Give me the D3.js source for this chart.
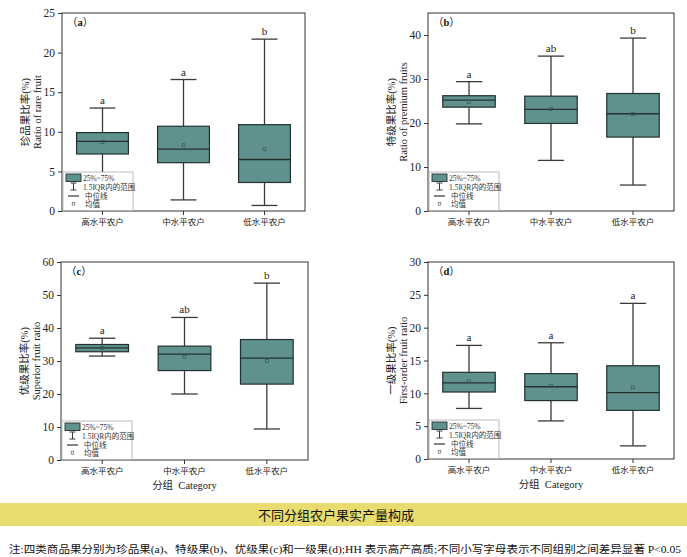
<!DOCTYPE html>
<html><head><meta charset="utf-8">
<script src="https://cdn.jsdelivr.net/npm/d3@7"></script>
<style>body{margin:0;background:#fff}svg{display:block}text{white-space:pre}</style>
</head><body><svg id="c" width="687" height="557"></svg>
<script>
// ---- data ----
const categories = ["高水平农户", "中水平农户", "低水平农户"];
const statKeys = ["low", "q1", "median", "q3", "high", "mean"];
// each row: [lower whisker, Q1, median, Q3, upper whisker, mean]
const rareFruit     = [[4.8, 7.2, 8.8, 9.9, 13.0, 8.7], [1.4, 6.1, 7.8, 10.7, 16.6, 8.3], [0.7, 3.6, 6.5, 10.9, 21.7, 7.8]];
const premiumFruit  = [[19.8, 23.6, 25.2, 26.2, 29.4, 24.8], [11.5, 19.9, 23.1, 26.1, 35.2, 23.2], [5.9, 16.8, 22.1, 26.7, 39.3, 22.0]];
const superiorFruit = [[31.5, 32.8, 34.0, 35.0, 36.9, 33.9], [20.0, 27.1, 32.1, 34.5, 43.2, 31.3], [9.4, 23.0, 30.9, 36.5, 53.6, 30.0]];
const firstFruit    = [[7.7, 10.2, 11.6, 13.2, 17.3, 11.8], [5.8, 8.9, 11.0, 13.0, 17.7, 11.1], [2.0, 7.4, 10.1, 14.2, 23.7, 10.9]];
const rareLetters = ["a", "a", "b"];
const premiumLetters = ["a", "ab", "b"];
const superiorLetters = ["a", "ab", "b"];
const firstLetters = ["a", "a", "a"];
const yMax = [25, 45, 60, 30];
const yTickValues = [[0, 5, 10, 15, 20, 25], [0, 10, 20, 30, 40], [0, 10, 20, 30, 40, 50, 60], [0, 5, 10, 15, 20, 25, 30]];
const panelTags = ["a", "b", "c", "d"];
const yTitlesCN = ["珍品果比率(%)", "特级果比率(%)", "优级果比率(%)", "一级果比率(%)"];
const yTitlesEN = ["Ratio of rare fruit", "Ratio of premium fruits", "Superior fruit ratio", "First-order fruit ratio"];
const legendLabels = ["25%~75%", "1.5IQR内的范围", "中位线", "均值"];
const xTitle = "分组  Category";
const bannerTitle = "不同分组农户果实产量构成";
const noteText = "注:四类商品果分别为珍品果(a)、特级果(b)、优级果(c)和一级果(d);HH 表示高产高质;不同小写字母表示不同组别之间差异显著 P<0.05";

const datasets = [rareFruit, premiumFruit, superiorFruit, firstFruit];
const letterSets = [rareLetters, premiumLetters, superiorLetters, firstLetters];

// ---- layout ----
const panels = [
  {x0: 62, x1: 305, y0: 13, y1: 211},
  {x0: 428, x1: 674, y0: 13, y1: 211},
  {x0: 61, x1: 308, y0: 262, y1: 460},
  {x0: 428, x1: 674, y0: 262, y1: 459}
];
const FILL = "#5f928e", BOXSTROKE = "#22302f", WHISK = "#3a3a3a", AXIS = "#333";
const SERIF = "'Liberation Serif','Times New Roman','Noto Sans CJK SC',serif";

const svg = d3.select("#c");

panels.forEach((p, i) => {
  const rows = datasets[i].map((r, j) => {
    const o = {cat: categories[j], letter: letterSets[i][j]};
    statKeys.forEach((k, m) => o[k] = r[m]);
    return o;
  });
  const x = d3.scaleBand().domain(categories).range([p.x0, p.x1]).paddingInner(0.36).paddingOuter(0.18);
  const y = d3.scaleLinear().domain([0, yMax[i]]).range([p.y1, p.y0]);
  const g = svg.append("g");

  // axes
  const ya = g.append("g").attr("transform", `translate(${p.x0},0)`)
    .call(d3.axisLeft(y).tickValues(yTickValues[i]).tickSize(4).tickPadding(3));
  const xa = g.append("g").attr("transform", `translate(0,${p.y1})`)
    .call(d3.axisBottom(x).tickSize(4).tickPadding(4));
  [ya, xa].forEach(a => {
    a.select(".domain").remove();
    a.selectAll("line").attr("stroke", AXIS);
  });
  ya.selectAll("text").attr("font-family", SERIF).attr("font-size", 11.5).attr("fill", "#222");
  xa.selectAll("text").attr("font-family", SERIF).attr("font-size", 8.5).attr("fill", "#222");

  // boxes
  const bw = x.bandwidth(), capW = bw * 0.5;
  const b = g.selectAll(".bx").data(rows).enter().append("g");
  b.append("line").attr("x1", d => x(d.cat) + bw / 2).attr("x2", d => x(d.cat) + bw / 2)
    .attr("y1", d => y(d.high)).attr("y2", d => y(d.q3)).attr("stroke", WHISK).attr("stroke-width", 1.3);
  b.append("line").attr("x1", d => x(d.cat) + bw / 2).attr("x2", d => x(d.cat) + bw / 2)
    .attr("y1", d => y(d.q1)).attr("y2", d => y(d.low)).attr("stroke", WHISK).attr("stroke-width", 1.3);
  ["high", "low"].forEach(k => {
    b.append("line").attr("x1", d => x(d.cat) + bw / 2 - capW / 2).attr("x2", d => x(d.cat) + bw / 2 + capW / 2)
      .attr("y1", d => y(d[k])).attr("y2", d => y(d[k])).attr("stroke", WHISK).attr("stroke-width", 1.3);
  });
  b.append("rect").attr("x", d => x(d.cat)).attr("width", bw)
    .attr("y", d => y(d.q3)).attr("height", d => y(d.q1) - y(d.q3))
    .attr("fill", FILL).attr("stroke", BOXSTROKE).attr("stroke-width", 1.2);
  b.append("line").attr("x1", d => x(d.cat)).attr("x2", d => x(d.cat) + bw)
    .attr("y1", d => y(d.median)).attr("y2", d => y(d.median)).attr("stroke", BOXSTROKE).attr("stroke-width", 1.3);
  b.append("rect").attr("x", d => x(d.cat) + bw / 2 - 1.5).attr("y", d => y(d.mean) - 1.5)
    .attr("width", 3).attr("height", 3).attr("fill", "none").attr("stroke", "#3c5553").attr("stroke-width", 0.7);
  b.append("text").attr("x", d => x(d.cat) + bw / 2).attr("y", d => y(d.high) - 4)
    .attr("text-anchor", "middle").attr("font-family", SERIF).attr("font-size", 11).attr("fill", "#222")
    .text(d => d.letter);

  // frame
  g.append("rect").attr("x", p.x0).attr("y", p.y0).attr("width", p.x1 - p.x0).attr("height", p.y1 - p.y0)
    .attr("fill", "none").attr("stroke", AXIS).attr("stroke-width", 1);

  // panel tag
  const tg = g.append("text").attr("x", p.x0 + 5).attr("y", p.y0 + 13)
    .attr("font-family", SERIF).attr("font-size", 10.5).attr("fill", "#111");
  tg.append("tspan").text("（");
  tg.append("tspan").attr("font-weight", "bold").text(panelTags[i]);
  tg.append("tspan").text("）");

  // y title
  const cy = (p.y0 + p.y1) / 2;
  g.append("text").attr("transform", `translate(${p.x0 - 37},${cy}) rotate(-90)`)
    .attr("text-anchor", "middle").attr("dy", "0.35em").attr("font-family", SERIF).attr("font-size", 10.5)
    .attr("fill", "#222").text(yTitlesCN[i]);
  g.append("text").attr("transform", `translate(${p.x0 - 25},${cy}) rotate(-90)`)
    .attr("text-anchor", "middle").attr("dy", "0.35em").attr("font-family", SERIF).attr("font-size", 10.5)
    .attr("fill", "#222").text(yTitlesEN[i]);

  // x title for bottom panels
  if (i >= 2) {
    g.append("text").attr("x", (p.x0 + p.x1) / 2).attr("y", p.y1 + 29)
      .attr("text-anchor", "middle").attr("font-family", SERIF).attr("font-size", 10.5).attr("fill", "#222")
      .text(xTitle);
  }

  // legend
  const lx = p.x0 + 1, ly = p.y1 - 39;
  const lg = g.append("g");
  lg.append("rect").attr("x", lx).attr("y", ly).attr("width", 70).attr("height", 38.5)
    .attr("fill", "#fff").attr("stroke", "#aaa").attr("stroke-width", 0.8);
  lg.append("rect").attr("x", lx + 3).attr("y", ly + 2).attr("width", 15).attr("height", 7.5)
    .attr("fill", FILL).attr("stroke", BOXSTROKE).attr("stroke-width", 0.9);
  const wx = lx + 10.5;
  lg.append("line").attr("x1", wx).attr("x2", wx).attr("y1", ly + 11).attr("y2", ly + 18).attr("stroke", WHISK);
  lg.append("line").attr("x1", wx - 3).attr("x2", wx + 3).attr("y1", ly + 11).attr("y2", ly + 11).attr("stroke", WHISK);
  lg.append("line").attr("x1", wx - 3).attr("x2", wx + 3).attr("y1", ly + 18).attr("y2", ly + 18).attr("stroke", WHISK);
  lg.append("line").attr("x1", lx + 5).attr("x2", lx + 16).attr("y1", ly + 24).attr("y2", ly + 24).attr("stroke", "#333").attr("stroke-width", 1.2);
  lg.append("rect").attr("x", wx - 1.3).attr("y", ly + 30.5).attr("width", 2.6).attr("height", 2.6)
    .attr("fill", "none").attr("stroke", "#555").attr("stroke-width", 0.6);
  const ty = [6, 15, 24, 32];
  legendLabels.forEach((t, k) => {
    lg.append("text").attr("x", lx + (k >= 2 ? 22 : 20)).attr("y", ly + ty[k]).attr("dy", "0.35em")
      .attr("font-family", SERIF).attr("font-size", 7.5).attr("fill", "#333").text(t);
  });
});

// banner
svg.append("rect").attr("x", 0).attr("y", 503).attr("width", 687).attr("height", 23).attr("fill", "#e8dc6e");
svg.append("text").attr("x", 336).attr("y", 515).attr("dy", "0.35em").attr("text-anchor", "middle")
  .attr("font-family", "'Noto Sans CJK SC',sans-serif").attr("font-size", 13).attr("fill", "#111").text(bannerTitle);
svg.append("text").attr("x", 9).attr("y", 549).attr("dy", "0.35em")
  .attr("font-family", SERIF).attr("font-size", 10.5).attr("fill", "#111")
  .attr("textLength", 672).attr("lengthAdjust", "spacingAndGlyphs").text(noteText);
</script></body></html>
